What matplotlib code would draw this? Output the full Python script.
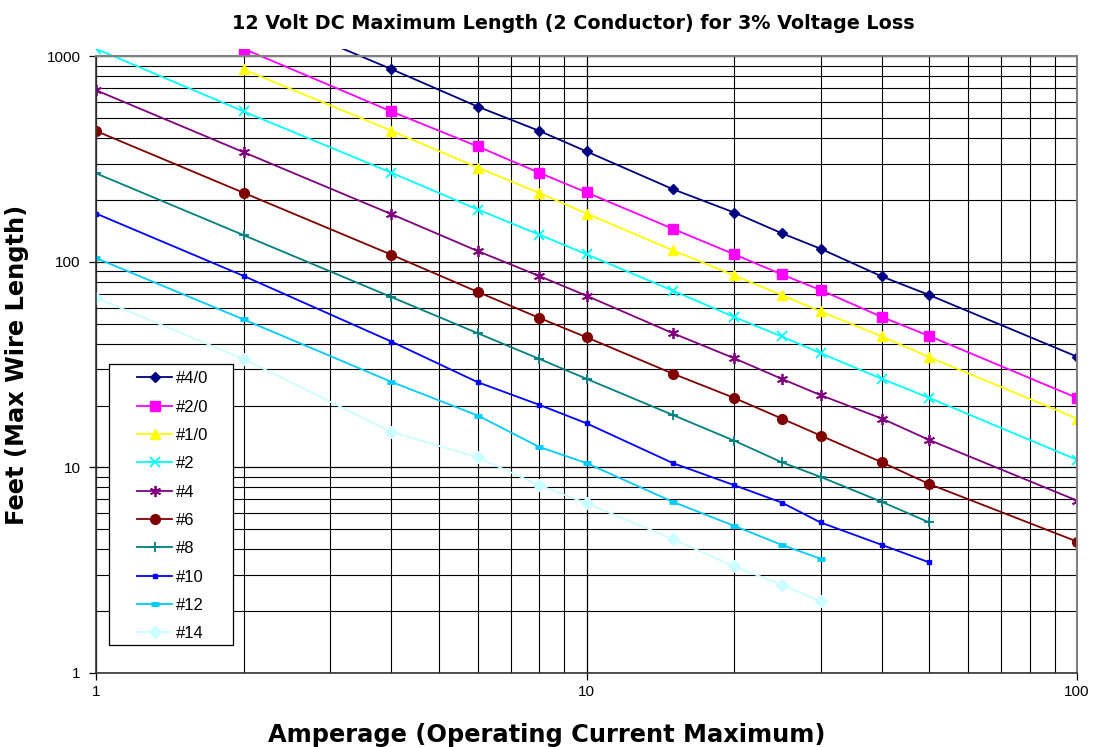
import matplotlib
matplotlib.use("Agg")
import matplotlib.pyplot as plt
from matplotlib.ticker import FixedLocator, FuncFormatter, NullFormatter, LogLocator
from matplotlib.transforms import Bbox, TransformedBbox
from matplotlib.patches import Rectangle

plt.rcParams['font.family'] = ['Liberation Sans', 'DejaVu Sans']

# ---- data ----
amps_4_0 = [2, 4, 6, 8, 10, 15, 20, 25, 30, 40, 50, 100]
feet_4_0 = [1740, 868, 570, 435, 345, 226, 174, 138, 116, 85, 69, 34.6]

amps_2_0 = [2, 4, 6, 8, 10, 15, 20, 25, 30, 40, 50, 100]
feet_2_0 = [1090, 540, 365, 272, 218, 145, 109, 87, 73, 54, 43.6, 21.8]

amps_1_0 = [2, 4, 6, 8, 10, 15, 20, 25, 30, 40, 50, 100]
feet_1_0 = [865, 435, 288, 217, 172, 114, 86, 69, 57.5, 43.4, 34.4, 17.3]

amps_2 = [1, 2, 4, 6, 8, 10, 15, 20, 25, 30, 40, 50, 100]
feet_2 = [1090, 540, 272, 180, 136, 109, 72.5, 54, 43.4, 36, 27, 21.8, 10.9]

amps_4 = [1, 2, 4, 6, 8, 10, 15, 20, 25, 30, 40, 50, 100]
feet_4 = [685, 342, 171, 113, 85.5, 68.5, 45, 34, 27, 22.5, 17.3, 13.6, 6.9]

amps_6 = [1, 2, 4, 6, 8, 10, 15, 20, 25, 30, 40, 50, 100]
feet_6 = [434, 217, 108.5, 71.5, 53.5, 43, 28.6, 21.8, 17.3, 14.3, 10.6, 8.3, 4.36]

amps_8 = [1, 2, 4, 6, 8, 10, 15, 20, 25, 30, 40, 50]
feet_8 = [270, 135, 67.5, 45, 33.8, 27, 18, 13.5, 10.6, 9.0, 6.8, 5.4]

amps_10 = [1, 2, 4, 6, 8, 10, 15, 20, 25, 30, 40, 50]
feet_10 = [172, 85.5, 41, 26, 20.2, 16.4, 10.5, 8.2, 6.75, 5.4, 4.2, 3.45]

amps_12 = [1, 2, 4, 6, 8, 10, 15, 20, 25, 30]
feet_12 = [104.5, 52.5, 26.1, 17.9, 12.6, 10.5, 6.8, 5.2, 4.2, 3.6]

amps_14 = [1, 2, 4, 6, 8, 10, 15, 20, 25, 30]
feet_14 = [67, 33.7, 14.9, 11.2, 8.2, 6.7, 4.48, 3.3, 2.69, 2.23]

labels = ['#4/0', '#2/0', '#1/0', '#2', '#4', '#6', '#8', '#10', '#12', '#14']
x_ticks = [1, 10, 100]
y_ticks = [1, 10, 100, 1000]

series = [
    (amps_4_0, feet_4_0), (amps_2_0, feet_2_0), (amps_1_0, feet_1_0),
    (amps_2, feet_2), (amps_4, feet_4), (amps_6, feet_6), (amps_8, feet_8),
    (amps_10, feet_10), (amps_12, feet_12), (amps_14, feet_14),
]

styles = [
    dict(color='#000080', marker='D', ms=5.5),
    dict(color='#FF00FF', marker='s', ms=6.5),
    dict(color='#FFFF00', marker='^', ms=7),
    dict(color='#00FFFF', marker='x', ms=6.5, mew=1.3),
    dict(color='#800080', marker=(6, 2, 0), ms=8, mew=1.3),
    dict(color='#800000', marker='o', ms=7),
    dict(color='#008080', marker='+', ms=7.5, mew=1.3),
    dict(color='#0000FF', marker='s', ms=3),
    dict(color='#00CCFF', marker='_', ms=6, mew=3.5),
    dict(color='#CCFFFF', marker='D', ms=6),
]

fig = plt.figure(figsize=(10.94, 7.47), dpi=100)
ax = fig.add_axes([0.0878, 0.0991, 0.8967, 0.8253])

clip = TransformedBbox(Bbox([[0, 0], [1, 1.012]]), ax.transAxes)
handles = []
for (xs, ys), lab, st in zip(series, labels, styles):
    lines = ax.plot(xs, ys, label=lab, lw=1.3, color=st['color'],
                    marker=st['marker'], ms=st['ms'], mew=st.get('mew', 1.0),
                    mec=st['color'], mfc=st['color'])
    for ln in lines:
        ln.set_clip_box(clip)
    handles.extend(lines)

ax.set_xscale('log')
ax.set_yscale('log')
ax.set_xlim(1, 100)
ax.set_ylim(1, 1000)

ax.xaxis.set_major_locator(FixedLocator(x_ticks))
ax.yaxis.set_major_locator(FixedLocator(y_ticks))
fmt = FuncFormatter(lambda v, p: f"{int(round(v))}")
ax.xaxis.set_major_formatter(fmt)
ax.yaxis.set_major_formatter(fmt)
ax.xaxis.set_minor_locator(LogLocator(base=10, subs=range(2, 10)))
ax.yaxis.set_minor_locator(LogLocator(base=10, subs=range(2, 10)))
ax.xaxis.set_minor_formatter(NullFormatter())
ax.yaxis.set_minor_formatter(NullFormatter())

ax.grid(True, which='major', color='black', lw=0.9)
ax.grid(True, which='minor', color='black', lw=0.8)
ax.set_axisbelow(True)

ax.tick_params(which='major', direction='out', length=5, width=0.9,
               labelsize=11)
ax.tick_params(axis='y', pad=6)
ax.tick_params(axis='x', pad=3.5)
ax.tick_params(which='minor', length=0)

for s in ['top', 'right']:
    ax.spines[s].set_color('#808080')
    ax.spines[s].set_linewidth(1.5)
for s in ['left', 'bottom']:
    ax.spines[s].set_color('#333333')
    ax.spines[s].set_linewidth(1.2)

ttl = ax.set_title('12 Volt DC Maximum Length (2 Conductor) for 3% Voltage Loss',
                   fontsize=13.8, fontweight='bold', pad=20, family='DejaVu Sans')
ttl.set_x(0.487)
ax.set_xlabel('Amperage (Operating Current Maximum)', fontsize=17.4,
              fontweight='bold', family='DejaVu Sans')
ax.set_ylabel('Feet (Max Wire Length)', fontsize=17.4, fontweight='bold',
              family='DejaVu Sans')
ax.xaxis.set_label_coords(0.4597, -0.081)
ax.yaxis.set_label_coords(-0.0683, 0.5)

# legend box (white frame) and entries
box = Rectangle((0.01325, 0.0454), 0.1265, 0.4558, transform=ax.transAxes,
                facecolor='white', edgecolor='black', lw=0.9, zorder=4,
                clip_on=False)
ax.add_patch(box)
leg = ax.legend(handles=handles, loc='upper left',
                bbox_to_anchor=(0.0418, 0.4895), fontsize=12, frameon=False,
                handlelength=2.1, handletextpad=0.25, labelspacing=0.80,
                borderpad=0, borderaxespad=0)
leg.set_zorder(5)

fig.savefig('out.png', dpi=100)
